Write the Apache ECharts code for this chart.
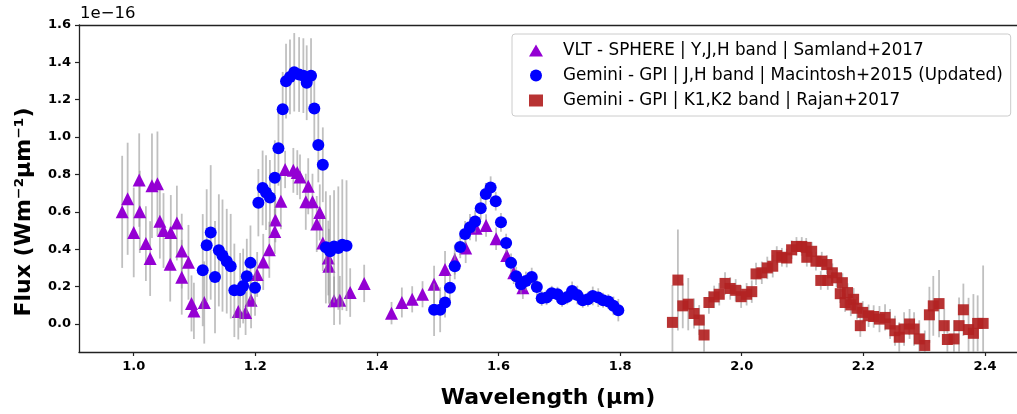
<!DOCTYPE html>
<html>
<head>
<meta charset="utf-8">
<script src="https://cdn.jsdelivr.net/npm/echarts@6/dist/echarts.min.js"></script>
<style>
html,body{margin:0;padding:0;background:#fff;}
#chart{width:1017px;height:414px;}
</style>
</head>
<body>
<div id="chart"></div>
<script>
// ---- Data (flux in units of 1e-16 W m^-2 µm^-1) ----
const vltName = 'VLT - SPHERE | Y,J,H band | Samland+2017';
const vltWave = [0.981,0.990,1.000,1.009,1.010,1.020,1.027,1.030,1.039,1.043,1.049,1.061,1.071,1.060,1.079,1.090,1.079,1.095,1.099,1.116,
  1.172,1.184,1.193,1.203,1.213,1.223,1.232,1.233,1.242,1.249,1.2625,1.269,1.2735,1.287,1.283,1.294,1.306,1.301,1.311,1.320,1.321,1.3295,1.339,1.356,1.379,
  1.424,1.441,1.458,1.475,1.494,1.512,1.528,1.546,1.563,1.5795,1.596,1.6135,1.625,1.640];
const vltFlux = [0.60,0.67,0.49,0.77,0.60,0.43,0.35,0.74,0.75,0.55,0.50,0.49,0.54,0.32,0.39,0.33,0.25,0.11,0.07,0.115,
  0.067,0.061,0.127,0.265,0.332,0.397,0.495,0.557,0.657,0.827,0.822,0.81,0.787,0.737,0.654,0.654,0.597,0.535,0.433,0.353,0.309,0.124,0.127,0.168,0.217,
  0.058,0.115,0.132,0.159,0.212,0.291,0.344,0.406,0.512,0.527,0.456,0.366,0.274,0.194];
const vltErr = [0.30,0.30,0.24,0.25,0.22,0.20,0.20,0.28,0.28,0.20,0.20,0.20,0.20,0.20,0.20,0.20,0.20,0.15,0.15,0.22,
  0.15,0.12,0.15,0.12,0.15,0.15,0.12,0.12,0.15,0.10,0.12,0.12,0.12,0.15,0.15,0.15,0.15,0.15,0.15,0.20,0.20,0.13,0.13,0.13,0.10,
  0.06,0.08,0.07,0.07,0.10,0.10,0.08,0.08,0.07,0.06,0.06,0.06,0.06,0.06];

const jhName = 'Gemini - GPI | J,H band | Macintosh+2015 (Updated)';
const jhWave = [1.1135,1.120,1.1266,1.1337,1.140,1.146,1.153,1.1595,1.1655,1.175,1.180,1.186,1.192,1.1995,1.205,1.212,1.2176,1.224,1.232,1.238,
  1.245,1.2505,1.257,1.264,1.272,1.279,1.2845,1.2916,1.297,1.3036,1.311,1.316,1.323,1.3295,1.3365,1.343,1.350,
  1.494,1.504,1.512,1.520,1.528,1.537,1.545,1.553,1.5615,1.5707,1.579,1.587,1.5954,1.604,1.6125,1.6206,1.629,1.637,1.645,
  1.6546,1.663,1.671,1.679,1.6875,1.697,1.7045,1.713,1.721,1.7296,1.7385,1.747,1.755,1.764,1.772,1.7806,1.789,1.797];
const jhFlux = [0.288,0.421,0.490,0.251,0.394,0.366,0.336,0.309,0.180,0.180,0.203,0.256,0.327,0.194,0.649,0.728,0.703,0.677,0.783,0.940,
  1.149,1.299,1.322,1.347,1.335,1.329,1.291,1.329,1.153,0.958,0.852,0.410,0.389,0.415,0.406,0.424,0.419,
  0.076,0.076,0.115,0.194,0.309,0.412,0.481,0.518,0.548,0.619,0.695,0.730,0.657,0.544,0.433,0.327,0.256,0.212,0.230,
  0.251,0.198,0.137,0.141,0.164,0.159,0.132,0.145,0.177,0.155,0.127,0.132,0.150,0.141,0.127,0.120,0.097,0.074];
const jhErr = [0.30,0.30,0.36,0.30,0.30,0.30,0.28,0.28,0.25,0.20,0.20,0.20,0.20,0.15,0.18,0.20,0.20,0.20,0.20,0.20,
  0.20,0.20,0.20,0.21,0.20,0.20,0.20,0.20,0.20,0.20,0.20,0.30,0.30,0.30,0.33,0.35,0.35,
  0.14,0.12,0.08,0.07,0.07,0.06,0.07,0.07,0.06,0.06,0.06,0.06,0.05,0.05,0.05,0.05,0.05,0.05,0.05,
  0.05,0.05,0.04,0.04,0.04,0.04,0.04,0.04,0.05,0.05,0.04,0.04,0.05,0.05,0.04,0.04,0.05,0.06];

const kName = 'Gemini - GPI | K1,K2 band | Rajan+2017';
const kWave = [1.886,1.895,1.903,1.912,1.9215,1.930,1.938,1.946,1.9546,1.963,1.9725,1.981,1.990,1.999,2.008,2.0165,2.0235,2.033,2.042,2.051,
  2.0576,2.066,2.074,2.082,2.090,2.0987,2.106,2.107,2.115,2.122,2.130,2.1316,2.140,2.1415,2.149,2.156,2.162,2.1655,2.170,2.174,
  2.1794,2.184,2.1895,2.195,2.199,2.2086,2.217,2.2265,2.2357,2.244,2.252,2.259,2.267,2.276,2.2834,2.292,2.301,2.3086,2.315,2.3245,
  2.333,2.3382,2.349,2.3574,2.3645,2.373,2.381,2.388,2.397];
const kFlux = [0.0085,0.235,0.097,0.106,0.056,0.021,-0.059,0.115,0.145,0.159,0.217,0.190,0.180,0.146,0.159,0.173,0.268,0.274,0.300,0.309,
  0.366,0.357,0.353,0.397,0.415,0.415,0.410,0.357,0.389,0.336,0.233,0.336,0.318,0.233,0.274,0.247,0.162,0.221,0.115,0.168,
  0.102,0.132,0.084,-0.009,0.062,0.044,0.040,0.026,0.035,0.0,-0.036,-0.071,-0.027,0.0,-0.027,-0.080,-0.115,0.049,0.097,0.109,
  -0.009,-0.083,-0.080,-0.009,0.076,-0.030,-0.050,0.003,0.003];
const kErr = [0.20,0.27,0.12,0.14,0.08,0.08,0.10,0.06,0.06,0.06,0.06,0.06,0.06,0.06,0.06,0.06,0.06,0.06,0.06,0.06,
  0.05,0.05,0.05,0.05,0.05,0.05,0.05,0.05,0.05,0.05,0.05,0.05,0.05,0.05,0.05,0.05,0.05,0.05,0.05,0.05,
  0.06,0.06,0.06,0.06,0.06,0.06,0.06,0.07,0.07,0.08,0.08,0.08,0.09,0.08,0.09,0.10,0.08,0.15,0.16,0.18,
  0.09,0.10,0.10,0.15,0.14,0.17,0.21,0.15,0.31];

const xTicks = [1.0,1.2,1.4,1.6,1.8,2.0,2.2,2.4];
const yTicks = [0.0,0.2,0.4,0.6,0.8,1.0,1.2,1.4,1.6];

// ---- Build ----
function points(w, f){ return w.map((x,i)=>[x, f[i]]); }
function bars(w, f, e){ return w.map((x,i)=>[x, f[i]-e[i], f[i]+e[i]]); }

function errSeries(data, z){
  return {
    type:'custom', silent:true, z:z, clip:true,
    renderItem:function(params, api){
      const p1 = api.coord([api.value(0), api.value(1)]);
      const p2 = api.coord([api.value(0), api.value(2)]);
      return {type:'line', shape:{x1:p1[0],y1:p1[1],x2:p2[0],y2:p2[1]},
        style:{stroke:'rgba(150,150,150,0.6)', lineWidth:1.8}};
    },
    encode:{x:0, y:[1,2]},
    data:data
  };
}

const chart = echarts.init(document.getElementById('chart'), null, {renderer:'canvas'});
const FONT = 'DejaVu Sans';
const XMIN = 0.910, XMAX = 2.4527;
chart.setOption({
  animation:false,
  backgroundColor:'#fff',
  textStyle:{fontFamily:FONT},
  grid:{left:79, right:0, top:25, bottom:59, show:false, containLabel:false},
  xAxis:[{
    type:'value', min:XMIN, max:XMAX,
    name:'Wavelength (µm)', nameLocation:'middle', nameGap:35,
    nameTextStyle:{fontFamily:FONT, fontWeight:'bold', fontSize:22, color:'#000'},
    axisLine:{show:true, onZero:false, lineStyle:{color:'#222', width:1.3}},
    axisTick:{show:true, length:4, lineStyle:{color:'#222', width:1.2}, customValues:xTicks},
    axisLabel:{fontFamily:FONT, fontWeight:'bold', fontSize:13, color:'#000', margin:8,
      customValues:xTicks, formatter:v=>v.toFixed(1)},
    splitLine:{show:false}
  },{
    type:'value', min:XMIN, max:XMAX, position:'top',
    axisLine:{show:true, onZero:false, lineStyle:{color:'#222', width:1.3}},
    axisTick:{show:false}, axisLabel:{show:false}, splitLine:{show:false}
  }],
  yAxis:{
    type:'value', min:-0.15, max:1.6,
    axisLine:{show:true, onZero:false, lineStyle:{color:'#222', width:1.3}},
    axisTick:{show:true, length:4, lineStyle:{color:'#222', width:1.2}, customValues:yTicks},
    axisLabel:{fontFamily:FONT, fontWeight:'bold', fontSize:13, color:'#000', margin:8,
      customValues:yTicks, formatter:v=>v.toFixed(1)},
    splitLine:{show:false}
  },
  legend:{
    orient:'vertical', left:512, top:34, data:[vltName, jhName, kName],
    backgroundColor:'rgba(255,255,255,0.85)', borderColor:'#ccc', borderWidth:1, borderRadius:3,
    padding:[8,8,7,17], itemGap:8, itemWidth:14, itemHeight:12,
    textStyle:{fontFamily:FONT, fontSize:16.8, color:'#000', padding:[0,0,0,15]}
  },
  graphic:[
    {type:'text', left:80, top:5, style:{text:'1e−16', fontFamily:FONT, fontSize:16.5, fill:'#000'}},
    {type:'text', x:24, y:212, rotation:Math.PI/2,
      style:{text:'Flux (Wm⁻²µm⁻¹)', fontFamily:FONT, fontWeight:'bold', fontSize:22, fill:'#000',
        align:'center', verticalAlign:'middle'}}
  ],
  series:[
    errSeries(bars(vltWave, vltFlux, vltErr), 1),
    {type:'scatter', name:vltName, data:points(vltWave, vltFlux), symbol:'triangle', symbolSize:13,
      itemStyle:{color:'#9400D3', opacity:1}, z:2},
    errSeries(bars(jhWave, jhFlux, jhErr), 3),
    {type:'scatter', name:jhName, data:points(jhWave, jhFlux), symbol:'circle', symbolSize:12,
      itemStyle:{color:'#0000FF', opacity:1}, z:4},
    errSeries(bars(kWave, kFlux, kErr), 5),
    {type:'scatter', name:kName, data:points(kWave, kFlux), symbol:'rect', symbolSize:11,
      itemStyle:{color:'#B22222', opacity:0.92}, z:6}
  ]
});
</script>
</body>
</html>
